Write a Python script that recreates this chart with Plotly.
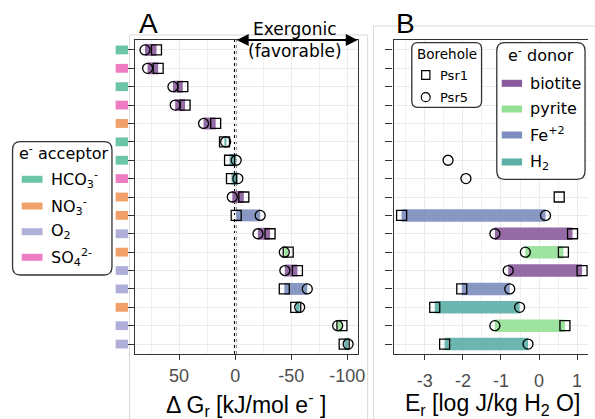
import plotly.graph_objects as go

# ---------------- data ----------------
rows = list(range(1, 18))
acceptor = ["HCO3", "SO4", "HCO3", "SO4", "NO3", "HCO3", "HCO3", "SO4", "NO3",
            "NO3", "O2", "NO3", "O2", "O2", "NO3", "O2", "O2"]
donor = ["biotite", "biotite", "biotite", "biotite", "biotite", "H2", "H2", "H2", "biotite",
         "Fe2", "biotite", "pyrite", "biotite", "Fe2", "H2", "pyrite", "H2"]
# Delta G_r [kJ/mol e-]
dg_psr1 = [70.2, 68.7, 46.7, 44.7, 17.4, 9.5, 5.0, 3.3, -7.7,
           -0.9, -31.1, -47.3, -55.5, -43.8, -54.0, -95.2, -97.2]
dg_psr5 = [80.4, 78.1, 55.5, 53.5, 28.2, 8.5, -0.9, -2.4, 2.6,
           -22.3, -20.3, -43.8, -44.3, -64.3, -57.5, -91.4, -100.7]
# E_r [log J/kg H2O]
er_psr1 = [None, None, None, None, None, None, None, None, 0.53,
           -3.61, 0.88, 0.64, 1.13, -2.03, -2.74, 0.68, -2.48]
er_psr5 = [None, None, None, None, None, None, -2.39, -1.92, None,
           0.17, -1.16, -0.36, -0.81, -0.77, -0.51, -1.16, -0.29]

dg_ticks = [50, 0, -50, -100]
dg_ticktext = ["50", "0", "-50", "-100"]
er_ticks = [-3, -2, -1, 0, 1]
er_ticktext = ["-3", "-2", "-1", "0", "1"]

acc_order = ["HCO3", "NO3", "O2", "SO4"]
acc_labels = {"HCO3": "HCO<sub>3</sub><sup>-</sup>", "NO3": "NO<sub>3</sub><sup>-</sup>",
              "O2": "O<sub>2</sub>", "SO4": "SO<sub>4</sub><sup>2-</sup>"}
acc_colors = {"HCO3": "#6cc5a8", "NO3": "#f0a068", "O2": "#afafda", "SO4": "#ee7cc2"}

don_order = ["biotite", "pyrite", "Fe2", "H2"]
don_labels = {"biotite": "biotite", "pyrite": "pyrite", "Fe2": "Fe<sup>+2</sup>", "H2": "H<sub>2</sub>"}
don_colors = {"biotite": "#8a5b9c", "pyrite": "#95e096", "Fe2": "#7d8dbd", "H2": "#5cafa7"}

# ---------------- helpers ----------------
W, H = 595, 419
def px(x):
    return x / W
def py(y):
    return 1 - y / H

def rrect(x0, y0, x1, y1, r):
    pts = [
        ("M", [(x0 + r, y0)]), ("L", [(x1 - r, y0)]), ("Q", [(x1, y0), (x1, y0 + r)]),
        ("L", [(x1, y1 - r)]), ("Q", [(x1, y1), (x1 - r, y1)]), ("L", [(x0 + r, y1)]),
        ("Q", [(x0, y1), (x0, y1 - r)]), ("L", [(x0, y0 + r)]), ("Q", [(x0, y0), (x0 + r, y0)]),
    ]
    s = ""
    for cmd, ps in pts:
        s += cmd + " " + " ".join(f"{px(a):.5f},{py(b):.5f}" for a, b in ps) + " "
    return s + "Z"

fig = go.Figure()

# ---------------- panel A ----------------
a_base = [min(a, b) for a, b in zip(dg_psr1, dg_psr5)]
a_len = [abs(a - b) for a, b in zip(dg_psr1, dg_psr5)]
fig.add_trace(go.Bar(
    y=rows, x=a_len, base=a_base, orientation="h", width=0.65,
    marker=dict(color=[don_colors[d] for d in donor], line=dict(width=0)),
    opacity=0.9, xaxis="x", yaxis="y", showlegend=False, hoverinfo="skip"))
fig.add_trace(go.Scatter(
    y=rows, x=dg_psr1, mode="markers", xaxis="x", yaxis="y", showlegend=False,
    marker=dict(symbol="square-open", size=10, color="black", line=dict(width=1.3))))
fig.add_trace(go.Scatter(
    y=rows, x=dg_psr5, mode="markers", xaxis="x", yaxis="y", showlegend=False,
    marker=dict(symbol="circle-open", size=10, color="black", line=dict(width=1.3))))

# ---------------- panel B ----------------
b_rows, b_base, b_len, b_col = [], [], [], []
for r, a, b, d in zip(rows, er_psr1, er_psr5, donor):
    if a is not None and b is not None:
        b_rows.append(r)
        b_base.append(min(a, b))
        b_len.append(abs(a - b))
        b_col.append(don_colors[d])
fig.add_trace(go.Bar(
    y=b_rows, x=b_len, base=b_base, orientation="h", width=0.68,
    marker=dict(color=b_col, line=dict(width=0)), opacity=0.9,
    xaxis="x2", yaxis="y2", showlegend=False, hoverinfo="skip"))
fig.add_trace(go.Scatter(
    y=rows, x=er_psr1, mode="markers", xaxis="x2", yaxis="y2", showlegend=False,
    marker=dict(symbol="square-open", size=10, color="black", line=dict(width=1.3))))
fig.add_trace(go.Scatter(
    y=rows, x=er_psr5, mode="markers", xaxis="x2", yaxis="y2", showlegend=False,
    marker=dict(symbol="circle-open", size=10, color="black", line=dict(width=1.3))))

tickfont = dict(family="Liberation Sans, Arial", size=18, color="#4d4d4d")
grid = "#ebebeb"
ydom = [py(354), py(40)]

common_y = dict(range=[17.54, 0.46], tickvals=rows, showticklabels=False,
                ticks="outside", ticklen=7, tickwidth=1.3, tickcolor="#333333",
                showgrid=True, gridcolor=grid, gridwidth=1.1, zeroline=False,
                showline=True, linecolor="#333333", linewidth=1.3, domain=ydom)

fig.update_layout(
    width=W, height=H, margin=dict(l=0, r=0, t=0, b=0),
    paper_bgcolor="white", plot_bgcolor="white", barmode="overlay", showlegend=False,
    xaxis=dict(domain=[px(137), px(362)], range=[89, -109.3], tickvals=dg_ticks,
               ticktext=dg_ticktext, tickfont=tickfont, ticks="outside", ticklen=5,
               tickwidth=1.3, tickcolor="#333333", showgrid=True, gridcolor=grid,
               gridwidth=1.1, zeroline=False, showline=True, linecolor="#333333",
               linewidth=1.3, mirror=True, anchor="y",
               minor=dict(tickvals=[75, 25, -25, -75], showgrid=True,
                          gridcolor="#f0f0f0", gridwidth=0.6)),
    yaxis=dict(common_y, mirror=True, anchor="x"),
    xaxis2=dict(domain=[px(398.3), 1.0], range=[-3.82, 1.286], tickvals=er_ticks,
                ticktext=er_ticktext, tickfont=tickfont, ticks="outside", ticklen=5,
                tickwidth=1.3, tickcolor="#333333", showgrid=True, gridcolor=grid,
                gridwidth=1.1, zeroline=False, showline=True, linecolor="#333333",
                linewidth=1.3, mirror=True, anchor="y2", ticklabelstandoff=5,
                minor=dict(tickvals=[-3.5, -2.5, -1.5, -0.5, 0.5], showgrid=True,
                           gridcolor="#f0f0f0", gridwidth=0.6)),
    yaxis2=dict(common_y, mirror=False, anchor="x2"),
)

shapes = []
# outer light frames
shapes.append(dict(type="rect", xref="paper", yref="paper", x0=px(131), x1=px(372),
                   y0=py(430), y1=py(35), line=dict(color="#d9d9d9", width=1), layer="below"))
shapes.append(dict(type="rect", xref="paper", yref="paper", x0=px(378), x1=px(610),
                   y0=py(430), y1=py(26), line=dict(color="#d9d9d9", width=1), layer="below"))
# dotted zero line
shapes.append(dict(type="line", xref="x", yref="paper", x0=0, x1=0, y0=ydom[0], y1=ydom[1],
                   line=dict(color="black", width=2.5, dash="dot"), layer="below"))
# acceptor colour swatches as y tick labels
for r, a in zip(rows, acceptor):
    shapes.append(dict(type="rect", xref="paper", yref="y", x0=px(117), x1=px(129.5),
                       y0=r - 0.24, y1=r + 0.24, fillcolor=acc_colors[a],
                       line=dict(width=0)))

annotations = []
dv = "DejaVu Sans"

def txt(x, y, text, size, family=dv, xanchor="left"):
    annotations.append(dict(x=px(x), y=py(y), xref="paper", yref="paper", xanchor=xanchor,
                            yanchor="middle", showarrow=False, text=text,
                            font=dict(family=family, size=size, color="black")))

# acceptor legend
shapes.append(dict(type="path", path=rrect(12.7, 141.7, 113.3, 275, 8), xref="paper", yref="paper",
                   fillcolor="white", line=dict(color="#333333", width=1.3)))
txt(17, 152, "e<sup>-</sup> acceptor", 16)
for k, yy in zip(acc_order, [179.3, 206, 231.7, 257.3]):
    shapes.append(dict(type="rect", xref="paper", yref="paper", x0=px(22), x1=px(43),
                       y0=py(yy + 3.5), y1=py(yy - 3.5), fillcolor=acc_colors[k], line=dict(width=0)))
    txt(50, yy, acc_labels[k], 16)

# borehole legend
shapes.append(dict(type="path", path=rrect(416.7, 42.7, 487.3, 107.3, 6), xref="paper", yref="paper",
                   fillcolor="white", line=dict(color="#333333", width=1.3), layer="above"))
txt(452, 54, "Borehole", 13.5, xanchor="center")
shapes.append(dict(type="rect", xref="paper", yref="paper", x0=px(426.7), x1=px(435),
                   y0=py(79.3), y1=py(70.7), line=dict(color="black", width=1.2), layer="above"))
shapes.append(dict(type="circle", xref="paper", yref="paper", x0=px(426.3), x1=px(435.3),
                   y0=py(101.7), y1=py(92.7), line=dict(color="black", width=1.2), layer="above"))
txt(443, 75, "Psr1", 13)
txt(443, 97, "Psr5", 13)

# donor legend
shapes.append(dict(type="path", path=rrect(502.7, 42.7, 592, 179.3, 8), xref="paper", yref="paper",
                   fillcolor="white", line=dict(color="#333333", width=1.3), layer="above"))
txt(511.7, 55, "e<sup>-</sup> donor", 16)
for k, yy in zip(don_order, [83.3, 109, 135, 162]):
    shapes.append(dict(type="rect", xref="paper", yref="paper", x0=px(507.7), x1=px(528.3),
                       y0=py(yy + 3.5), y1=py(yy - 3.5), fillcolor=don_colors[k],
                       line=dict(width=0), layer="above"))
    txt(534, yy, don_labels[k], 16)

# panel letters
txt(150.5, 23, "A", 28, family="Liberation Sans, Arial", xanchor="center")
txt(410.5, 23, "B", 28, family="Liberation Sans, Arial", xanchor="center")

# exergonic arrow + text
annotations.append(dict(x=-109.3, y=ydom[1], xref="x", yref="paper", ax=0, ay=0,
                        axref="x", ayref="pixel", showarrow=True, text="", arrowside="end+start",
                        arrowhead=2, arrowsize=1.2, arrowwidth=2, arrowcolor="black",
                        standoff=0, startstandoff=0))
txt(299, 40.5, "Exergonic<br>(favorable)", 17, xanchor="center")

# axis titles
txt(248.5, 404, "\u0394 G<sub>r</sub> [kJ/mol e<sup>-</sup> ]", 23,
    family="Liberation Sans, Arial", xanchor="center")
txt(498, 404, "E<sub>r</sub> [log J/kg H<sub>2</sub> O]", 23,
    family="Liberation Sans, Arial", xanchor="center")

fig.update_layout(shapes=shapes, annotations=annotations)
fig.write_html("out.html", config={"displayModeBar": False},
               post_script="document.body.style.margin='0px';")
